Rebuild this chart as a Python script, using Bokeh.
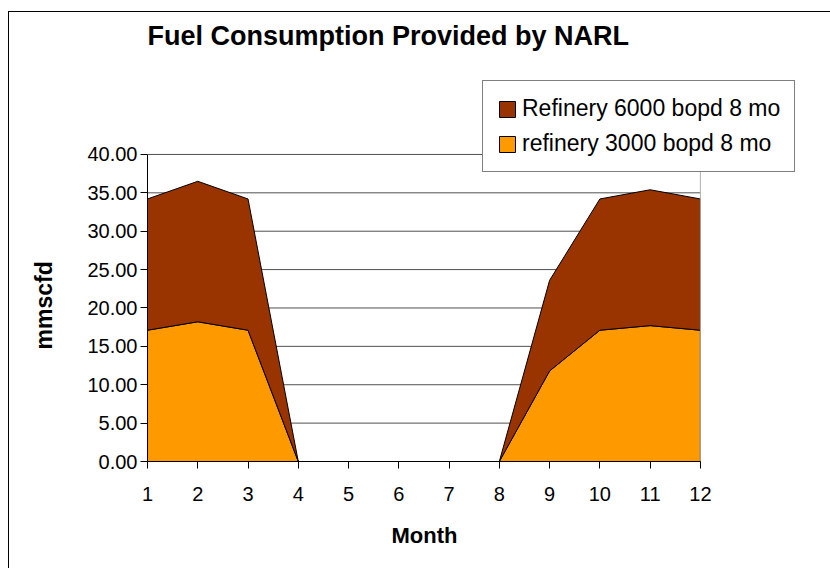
from bokeh.plotting import figure
from bokeh.models import (Legend, LegendItem, Label, FixedTicker, Title,
                          NumeralTickFormatter, Range1d)
from bokeh.embed import file_html
from bokeh.resources import INLINE

# ---- data ----
months = [1, 2, 3, 4, 5, 6, 7, 8, 9, 10, 11, 12]
month_labels = ["1", "2", "3", "4", "5", "6", "7", "8", "9", "10", "11", "12"]
refinery_3000 = [17.1, 18.2, 17.1, 0, 0, 0, 0, 0, 11.8, 17.1, 17.7, 17.1]
refinery_6000 = [17.1, 18.3, 17.1, 0, 0, 0, 0, 0, 11.8, 17.1, 17.7, 17.1]
y_ticks = [0, 5, 10, 15, 20, 25, 30, 35, 40]

title_text = "Fuel Consumption Provided by NARL"
x_label = "Month"
y_label = "mmscfd"
series_names = ["Refinery 6000 bopd 8 mo", "refinery 3000 bopd 8 mo"]
colors = ["#993300", "#FF9900"]

FONT = "Liberation Sans"

# frame is enlarged above/right so title and legend can live inside it;
# axes are bounded to the real data extent.
p = figure(width=830, height=568, output_backend="svg", toolbar_location=None,
           x_range=Range1d(1, 14.29), y_range=Range1d(0, 58.1),
           min_border_left=147, min_border_right=15,
           min_border_top=15, min_border_bottom=107,
           background_fill_color="white", border_fill_color="white",
           border_fill_alpha=0.0)
p.title.visible = False
p.outline_line_color = None
p.styles = {
    "background-color": "white",
    "background-image": "linear-gradient(black, black), linear-gradient(black, black)",
    "background-size": "1px 100%, 100% 1px",
    "background-position": "8px 11px, 8px 11px",
    "background-repeat": "no-repeat",
}

# grid lines and right frame edge (only over the data extent)
p.xgrid.visible = False
p.ygrid.visible = False
p.segment(x0=months[0], x1=months[-1], y0=y_ticks, y1=y_ticks,
          line_color="#505050", line_width=1)

# stacked areas built from the data arrays
total = [a + b for a, b in zip(refinery_3000, refinery_6000)]
xs_poly = months + months[::-1]
bottom_y = refinery_3000 + [0] * len(months)
top_y = total + refinery_3000[::-1]

r_bottom = p.patch(xs_poly, bottom_y, fill_color=colors[1], line_color="black", line_width=1)
r_top = p.patch(xs_poly, top_y, fill_color=colors[0], line_color="black", line_width=1)

p.segment(x0=months[-1], x1=months[-1], y0=y_ticks[0], y1=y_ticks[-1],
          line_color="#b0b0b0", line_width=1)

# axes
p.xaxis.ticker = FixedTicker(ticks=months)
p.xaxis.bounds = (months[0], months[-1])
p.xaxis.major_label_overrides = {m: l for m, l in zip(months, month_labels)}
p.yaxis.ticker = FixedTicker(ticks=y_ticks)
p.yaxis.bounds = (y_ticks[0], y_ticks[-1])
p.yaxis.formatter = NumeralTickFormatter(format="0.00")
for ax in (p.xaxis[0], p.yaxis[0]):
    ax.axis_line_color = "black"
    ax.major_tick_line_color = "black"
    ax.major_tick_in = 0
    ax.major_tick_out = 7
    ax.minor_tick_line_color = None
    ax.major_label_text_font = FONT
    ax.major_label_text_font_size = "20px"
    ax.major_label_text_color = "black"
p.xaxis.major_label_standoff = 18
p.yaxis.major_label_standoff = 3

# axis titles placed in the side panels so they centre on the data extent
p.add_layout(Title(text=x_label, align="left", offset=244, standoff=35,
                   text_font=FONT, text_font_size="22px", text_font_style="bold",
                   text_color="black"), "below")
p.add_layout(Title(text=y_label, align="left", offset=112, standoff=56,
                   text_font=FONT, text_font_size="23px", text_font_style="bold",
                   text_color="black"), "left")

# title
p.add_layout(Label(x=0, y=426, x_units="screen", y_units="screen", text=title_text,
                   text_font=FONT, text_font_size="27px", text_font_style="bold",
                   text_color="black", text_baseline="alphabetic", text_align="left"))

# legend
legend = Legend(items=[LegendItem(label=series_names[0], renderers=[r_top]),
                       LegendItem(label=series_names[1], renderers=[r_bottom])],
                location=(335, 289), margin=0, padding=14, spacing=8,
                glyph_width=20, glyph_height=20, label_standoff=5, label_height=22,
                label_text_font=FONT, label_text_font_size="23px", label_text_color="black",
                border_line_color="black", border_line_width=1,
                background_fill_color="white", background_fill_alpha=1.0)
p.add_layout(legend, "center")

open("out.html", "w").write(file_html(p, INLINE))
